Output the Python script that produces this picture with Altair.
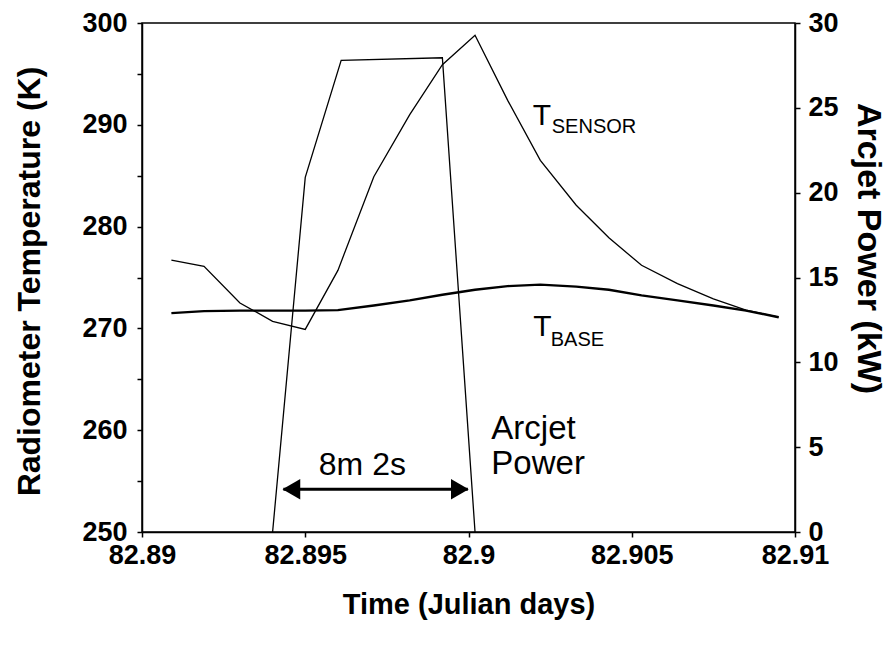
import altair as alt
import pandas as pd

# ---- data ----
sensor_t = [82.8909, 82.8919, 82.8930, 82.8940, 82.8950, 82.8960, 82.8971, 82.8982,
            82.8992, 82.9002, 82.9012, 82.9022, 82.9033, 82.9043, 82.9053, 82.9064,
            82.9075, 82.9085, 82.9095]
sensor_k = [276.7, 276.1, 272.5, 270.7, 269.9, 275.7, 284.9, 291.0,
            295.9, 298.8, 292.4, 286.5, 282.1, 278.9, 276.2, 274.4,
            272.9, 271.8, 271.1]

base_t = [82.8909, 82.8919, 82.8930, 82.8940, 82.8950, 82.8960, 82.8971, 82.8982,
          82.8992, 82.9002, 82.9012, 82.9022, 82.9033, 82.9043, 82.9053, 82.9064,
          82.9075, 82.9085, 82.9095]
base_k = [271.5, 271.7, 271.75, 271.75, 271.75, 271.8, 272.25, 272.75,
          273.3, 273.8, 274.15, 274.3, 274.1, 273.8, 273.25, 272.75,
          272.25, 271.75, 271.1]

power_t = [82.8940, 82.8950, 82.8961, 82.8992, 82.9002]
power_kw = [0.0, 20.9, 27.8, 27.95, 0.0]

x_ticks = [82.89, 82.895, 82.9, 82.905, 82.91]
k_ticks = [250, 255, 260, 265, 270, 275, 280, 285, 290, 295, 300]
kw_ticks = [0, 5, 10, 15, 20, 25, 30]

# annotation positions (data coordinates)
t_letter = ["T", "T"]
t_letter_x = [82.90197, 82.90198]
t_letter_y = [289.99, 269.3]
t_sub = ["SENSOR", "BASE"]
t_sub_x = [82.90255, 82.90252]
t_sub_y = [289.17, 268.3]

arc_text = ["Arcjet", "Power"]
arc_x = [82.90070, 82.90070]
arc_y = [260.1, 256.65]

dur_text = ["8m 2s"]
dur_x = [82.89675]
dur_y = [256.6]

arrow_x = [82.89433]
arrow_x2 = [82.89998]
arrow_y = [254.2]

FONT = "Liberation Sans"
XDOM = [82.89, 82.91]
KDOM = [250, 300]
KWDOM = [0, 30]

xs = alt.Scale(domain=XDOM, nice=False, zero=False)
ks = alt.Scale(domain=KDOM, nice=False, zero=False)
kws = alt.Scale(domain=KWDOM, nice=False)

x_axis = alt.Axis(values=x_ticks, format=".3~f", title="Time (Julian days)",
                  labelFontSize=27, labelFont=FONT, labelFontWeight="bold",
                  titleFontSize=29, titleFont=FONT, titleFontWeight="bold",
                  tickSize=5, labelPadding=5, titlePadding=22, grid=False,
                  labelFlush=False)

k_axis = alt.Axis(values=k_ticks, labelExpr="datum.value % 10 == 0 ? datum.label : ''",
                  title="Radiometer Temperature (K)", orient="left",
                  labelFontSize=27, labelFont=FONT, labelFontWeight="bold",
                  titleFontSize=32, titleFont=FONT, titleFontWeight="bold",
                  tickSize=5, labelPadding=10, grid=False,
                  titleX=-113, titleY=258, titleAngle=270,
                  titleAlign="center", titleBaseline="middle")

kw_axis = alt.Axis(values=kw_ticks, title="Arcjet Power (kW)", orient="right",
                   labelFontSize=27, labelFont=FONT, labelFontWeight="bold",
                   titleFontSize=34, titleFont=FONT, titleFontWeight="bold",
                   tickSize=5, labelPadding=8, grid=False,
                   titleX=72, titleY=225, titleAngle=90,
                   titleAlign="center", titleBaseline="middle")

sensor_df = pd.DataFrame({"t": sensor_t, "k": sensor_k})
base_df = pd.DataFrame({"t": base_t, "k": base_k})
power_df = pd.DataFrame({"t": power_t, "kw": power_kw})

sensor_line = alt.Chart(sensor_df).mark_line(color="black", strokeWidth=1.3).encode(
    x=alt.X("t:Q", scale=xs, axis=x_axis),
    y=alt.Y("k:Q", scale=ks, axis=k_axis),
)
base_line = alt.Chart(base_df).mark_line(color="black", strokeWidth=2.4).encode(
    x=alt.X("t:Q", scale=xs),
    y=alt.Y("k:Q", scale=ks),
)

t_df = pd.DataFrame({"txt": t_letter, "x": t_letter_x, "y": t_letter_y})
t_marks = alt.Chart(t_df).mark_text(font=FONT, fontSize=30, align="left",
                                    baseline="alphabetic", color="black").encode(
    x=alt.X("x:Q", scale=xs), y=alt.Y("y:Q", scale=ks), text="txt:N")

sub_df = pd.DataFrame({"txt": t_sub, "x": t_sub_x, "y": t_sub_y})
sub_marks = alt.Chart(sub_df).mark_text(font=FONT, fontSize=20, align="left",
                                        baseline="alphabetic", color="black").encode(
    x=alt.X("x:Q", scale=xs), y=alt.Y("y:Q", scale=ks), text="txt:N")

arc_df = pd.DataFrame({"txt": arc_text, "x": arc_x, "y": arc_y})
arc_marks = alt.Chart(arc_df).mark_text(font=FONT, fontSize=33, align="left",
                                        baseline="middle", color="black").encode(
    x=alt.X("x:Q", scale=xs), y=alt.Y("y:Q", scale=ks), text="txt:N")

dur_df = pd.DataFrame({"txt": dur_text, "x": dur_x, "y": dur_y})
dur_marks = alt.Chart(dur_df).mark_text(font=FONT, fontSize=32, align="center",
                                        baseline="middle", color="black").encode(
    x=alt.X("x:Q", scale=xs), y=alt.Y("y:Q", scale=ks), text="txt:N")

arr_df = pd.DataFrame({"x": arrow_x, "x2": arrow_x2, "y": arrow_y})
arrow_line = alt.Chart(arr_df).mark_rule(color="black", strokeWidth=3).encode(
    x=alt.X("x:Q", scale=xs), x2="x2:Q", y=alt.Y("y:Q", scale=ks))
arrow_left = alt.Chart(arr_df).mark_point(shape="triangle-left", filled=True,
                                          color="black", size=420, opacity=1,
                                          xOffset=8).encode(
    x=alt.X("x:Q", scale=xs), y=alt.Y("y:Q", scale=ks))
arrow_right = alt.Chart(arr_df).mark_point(shape="triangle-right", filled=True,
                                           color="black", size=420, opacity=1,
                                           xOffset=-8).encode(
    x=alt.X("x2:Q", scale=xs), y=alt.Y("y:Q", scale=ks))

temp_layer = alt.layer(sensor_line, base_line, t_marks, sub_marks, arc_marks,
                       dur_marks, arrow_line, arrow_left, arrow_right)

power_line = alt.Chart(power_df).mark_line(color="black", strokeWidth=1.3).encode(
    x=alt.X("t:Q", scale=xs),
    y=alt.Y("kw:Q", scale=kws, axis=kw_axis),
)

chart = alt.layer(temp_layer, power_line).resolve_scale(y="independent").properties(
    width=653, height=509,
    autosize=alt.AutoSizeParams(type="none"),
    padding={"left": 134, "top": 15, "right": 93, "bottom": 116},
    background="white",
).configure_view(stroke="black", strokeWidth=1.5).configure_axis(
    domainColor="black", domainWidth=1.5, tickColor="black", tickWidth=1.5,
    labelColor="black", titleColor="black"
)

chart.save("out.html", embed_options={"renderer": "svg", "actions": False})
